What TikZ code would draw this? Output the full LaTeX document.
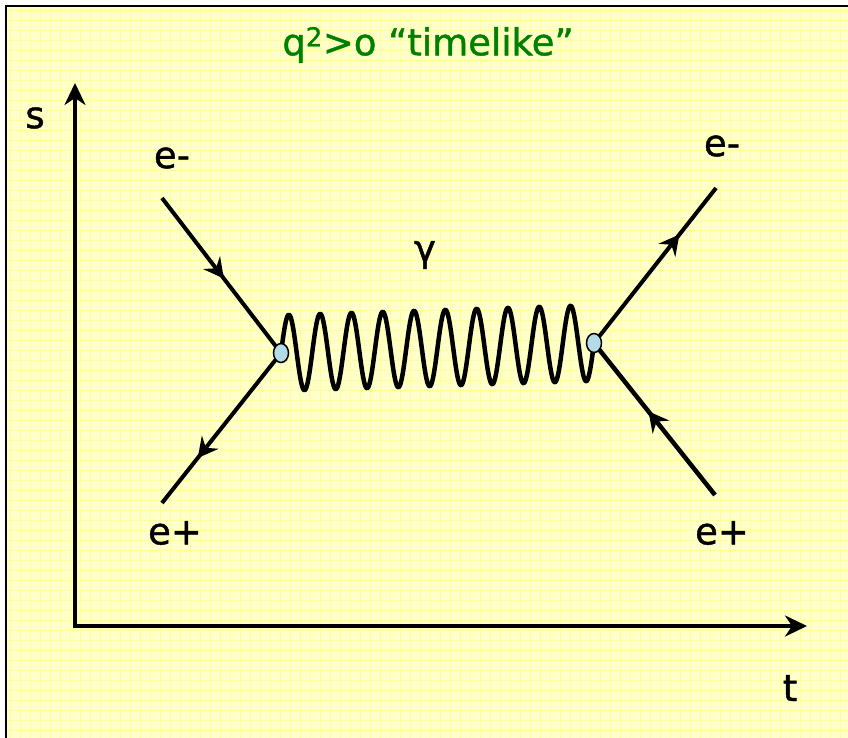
\documentclass[tikz,border=0pt]{standalone}
\usepackage{fontspec}
\setmainfont{DejaVu Sans}[FakeBold=1.2]
\usetikzlibrary{arrows.meta, calc, decorations.markings, shapes.geometric}
\pgfdeclarelayer{background}
\pgfsetlayers{background,main}

\begin{document}
\begin{tikzpicture}[x=1pt, y=-1pt,
    axis/.style={line width=3.5pt, line join=miter, {Stealth[length=22pt, width=21pt, inset=7pt]}-{Stealth[length=22pt, width=21pt, inset=7pt]}},
    fermion/.style={line width=4pt, postaction={decorate}, decoration={markings, mark=at position #1 with {\arrow{Stealth[length=20pt, width=21pt, inset=7pt]}}}},
    photon/.style={line width=4.5pt, line join=round},
    vertex/.style={ellipse, draw=black, line width=1.5pt, fill=vertexColour, minimum width=15pt, minimum height=19pt, inner sep=0pt},
    txt/.style={font=\fontsize{37}{40}\selectfont}]
    \definecolor{bgColour}{HTML}{FFFFCC}
    \definecolor{gridColour}{HTML}{FFFF99}
    \definecolor{titleColour}{HTML}{008000}
    \definecolor{vertexColour}{HTML}{B4DCE6}

    \def\waveAmp{38}
    \def\wavePeriods{10}

    \useasboundingbox (0,0) rectangle (848,737);

    % Draw background and grid
    \begin{pgfonlayer}{background}
    \fill[bgColour] (6,6) rectangle (880,780);
    \draw[gridColour, line width=0.8pt, step=10pt] (6,6) grid (880,780);
    \draw[line width=2.5pt] (6,6) rectangle (880,780);
    \end{pgfonlayer}

    % Title
    \node[txt, text=titleColour] (title) at (428,45) {q\textsuperscript{2}>o “timelike”};

    % Draw axes
    \coordinate (origin) at (75,626);
    \coordinate (sEnd) at (75,83);
    \coordinate (tEnd) at (807,626);
    \draw[axis] (sEnd) -- (origin) -- (tEnd);
    \node[txt] (sLabel) at (35,118) {s};
    \node[txt] (tLabel) at (790,688) {t};

    % Vertices
    \node[vertex] (vL) at (281,353) {};
    \node[vertex] (vR) at (594,343) {};

    % Free ends of the fermion lines
    \coordinate (inEm) at (162,198);
    \coordinate (outEp) at (162,503);
    \coordinate (outEm) at (716,188);
    \coordinate (inEp) at (715,495);

    % Draw fermion lines and photon behind the vertices
    \begin{pgfonlayer}{background}
    \draw[fermion=0.52] (inEm) -- (vL.center);
    \draw[fermion=0.70] (vL.center) -- (outEp);
    \draw[fermion=0.70] (vR.center) -- (outEm);
    \draw[fermion=0.55, line width=4.5pt] (inEp) -- (vR.center);
    \draw[photon] let \p1=(vL.center), \p2=(vR.center) in
        plot[domain=0:1, samples=400, smooth, variable=\t]
        ({\x1+(\x2-\x1)*\t}, {\y1+(\y2-\y1)*\t+\waveAmp*sin(360*\wavePeriods*\t)});
    \end{pgfonlayer}
    \node[txt] (gamma) at (425,255) {γ};

    % Particle labels
    \node[txt] (emL) at (172,158) {e-};
    \node[txt] (epL) at (175,533) {e+};
    \node[txt] (emR) at (722,146) {e-};
    \node[txt] (epR) at (722,533) {e+};

\end{tikzpicture}
\end{document}
